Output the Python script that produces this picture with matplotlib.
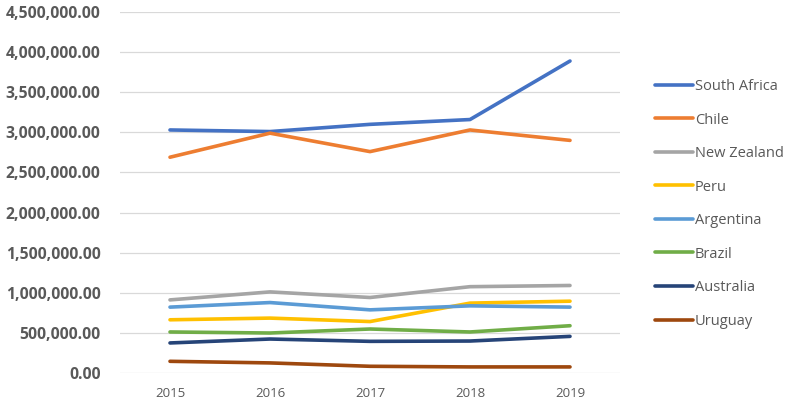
import matplotlib
matplotlib.use("Agg")
import matplotlib.pyplot as plt
from matplotlib.ticker import FuncFormatter, MultipleLocator

# Years and yearly values per country
years = [2015, 2016, 2017, 2018, 2019]
south_africa = [3030000, 3010000, 3100000, 3160000, 3890000]
chile = [2690000, 2990000, 2760000, 3030000, 2900000]
new_zealand = [910000, 1010000, 940000, 1075000, 1090000]
peru = [662000, 683000, 640000, 870000, 894000]
argentina = [820000, 877000, 786000, 836000, 820000]
brazil = [510000, 497000, 547000, 510000, 588000]
australia = [373000, 422000, 393000, 397000, 455000]
uruguay = [144000, 124000, 82000, 74000, 74000]

series = [
    ("South Africa", south_africa, "#4472C4"),
    ("Chile", chile, "#ED7D31"),
    ("New Zealand", new_zealand, "#A5A5A5"),
    ("Peru", peru, "#FFC000"),
    ("Argentina", argentina, "#5B9BD5"),
    ("Brazil", brazil, "#70AD47"),
    ("Australia", australia, "#264478"),
    ("Uruguay", uruguay, "#9E480E"),
]

plt.rcParams['font.family'] = ['Open Sans', 'DejaVu Sans']

fig = plt.figure(figsize=(8, 4.18), dpi=100)
ax = fig.add_axes([0.15, 0.108, 0.625, 0.863])

for name, vals, col in series:
    ax.plot(years, vals, color=col, lw=2.6, label=name, solid_capstyle='round')

ax.set_xlim(2014.5, 2019.5)
ax.set_ylim(0, 4500000)
ax.yaxis.set_major_locator(MultipleLocator(500000))
ax.yaxis.set_major_formatter(FuncFormatter(lambda v, p: "{:,.2f}".format(v)))
ax.set_xticks(years)
ax.grid(axis='y', color='#D9D9D9', lw=0.9)
ax.set_axisbelow(True)
for s in ax.spines.values():
    s.set_visible(False)
ax.tick_params(length=0)
ax.tick_params(axis='y', labelsize=11.3, labelcolor='#595959', pad=14)
ax.tick_params(axis='x', labelsize=9.5, labelcolor='#595959', pad=10)
for t in ax.get_yticklabels():
    t.set_fontweight('bold')

leg = ax.legend(loc='upper left', bbox_to_anchor=(0.812, 0.825), bbox_transform=fig.transFigure,
                frameon=False, fontsize=10.5, labelspacing=1.27, handlelength=2.6,
                handletextpad=0.1, borderaxespad=0)
for t in leg.get_texts():
    t.set_color('#595959')

fig.savefig("out.png", dpi=100)
